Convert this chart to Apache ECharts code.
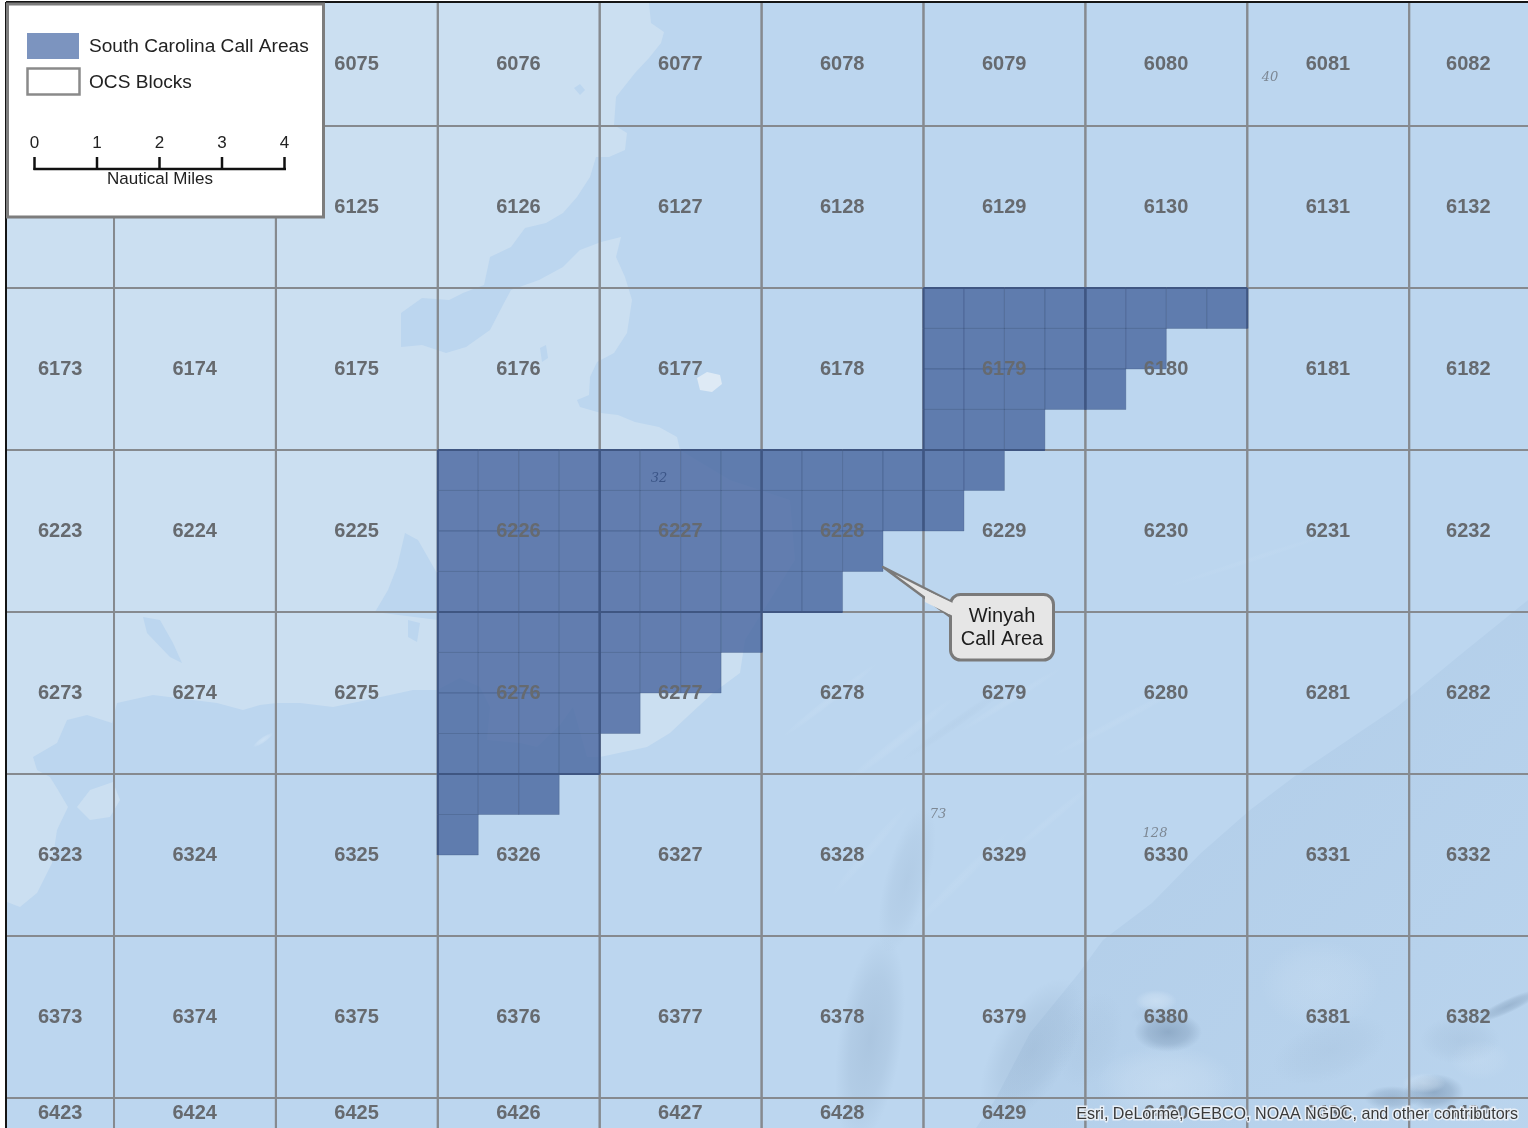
<!DOCTYPE html>
<html>
<head>
<meta charset="utf-8">
<style>html,body{margin:0;padding:0;background:#fff}#c{width:1528px;height:1128px}</style>
<script src="https://cdn.jsdelivr.net/npm/echarts@6/dist/echarts.min.js"></script>
</head>
<body>
<div id="c"></div>
<script>
// OCS block numbers (block n sits at column n%50, row floor(n/50))
const blockNumbers = [
  6075,6076,6077,6078,6079,6080,6081,6082,
  6125,6126,6127,6128,6129,6130,6131,6132,
  6173,6174,6175,6176,6177,6178,6179,6180,6181,6182,
  6223,6224,6225,6226,6227,6228,6229,6230,6231,6232,
  6273,6274,6275,6276,6277,6278,6279,6280,6281,6282,
  6323,6324,6325,6326,6327,6328,6329,6330,6331,6332,
  6373,6374,6375,6376,6377,6378,6379,6380,6381,6382,
  6423,6424,6425,6426,6427,6428,6429,6430,6431,6432
];
const blocksUnderLegend = [6073,6074,6123,6124];

// Call area: which block, and which of its 4x4 aliquots (rows top to bottom)
const callBlocks = [6179,6180,6226,6227,6228,6229,6276,6277,6326];
const callMasks = [
  ['1111','1111','1111','1110'],
  ['1111','1100','1000','0000'],
  ['1111','1111','1111','1111'],
  ['1111','1111','1111','1111'],
  ['1111','1111','1110','1100'],
  ['1100','1000','0000','0000'],
  ['1111','1111','1111','1111'],
  ['1111','1110','1000','0000'],
  ['1110','1000','0000','0000']
];

// Bathymetry tints, digitised in map-sheet units
const shallowShelf = [[7,3],[649,3],[651,23],[664,32],[661,43],[649,58],[635,73],[616,97],[614,125],[627,133],[625,150],[609,157],[596,157],[590,177],[577,197],[563,213],[546,223],[525,228],[511,247],[490,257],[484,285],[463,293],[449,300],[422,298],[401,313],[401,347],[422,345],[446,353],[466,347],[490,330],[504,303],[511,290],[539,280],[563,267],[580,250],[601,242],[621,237],[616,257],[625,277],[632,300],[627,333],[614,353],[597,362],[590,377],[589,395],[577,400],[580,407],[601,413],[618,415],[635,422],[659,427],[677,437],[680,450],[730,480],[790,500],[795,560],[770,600],[745,640],[740,673],[713,693],[687,717],[670,733],[647,747],[600,757],[587,757],[573,707],[560,725],[537,747],[520,743],[487,740],[490,707],[480,687],[460,678],[437,690],[413,690],[367,700],[333,707],[300,703],[277,703],[260,705],[243,710],[217,703],[193,700],[153,695],[117,703],[112,723],[87,715],[67,720],[57,743],[33,757],[37,770],[50,777],[58,790],[68,807],[57,830],[52,863],[37,893],[20,907],[7,902]];
const shelfIsland = [[77,807],[90,790],[113,782],[120,800],[110,817],[90,820]];
const shelfKnoll = [[697,378],[707,372],[720,375],[722,384],[712,392],[700,390]];
const pocket6274 = [[143,617],[160,620],[173,643],[182,663],[170,657],[147,633]];
const pocket6225 = [[405,533],[418,540],[438,575],[438,620],[375,612],[388,590],[397,567]];
const pocket6275 = [[408,620],[420,623],[417,642],[408,637]];
const pocket6076 = [[574,88],[580,84],[585,90],[580,95]];
const pocket6176 = [[540,348],[546,345],[548,358],[542,362]];
const slopeWedge = [[1528,600],[1460,655],[1397,707],[1299,773],[1250,810],[1201,853],[1152,903],[1103,940],[1079,973],[1030,1033],[995,1100],[976,1128],[1528,1128]];

// Soft relief: x, y, radius x, radius y, rotation degrees, opacity
const reliefShadows = [
  [870,1040,32,105,-8,.24],[907,880,22,75,-15,.15],[1032,1050,38,80,-30,.22],
  [1168,1032,34,20,0,.6],[1434,1092,30,18,0,.6],[1392,1098,28,12,0,.45],
  [1508,1006,36,7,25,.45],[1330,1050,60,30,20,.1],[1460,1040,40,24,0,.14],
  [1090,1040,30,50,-20,.08],[960,720,70,5,35,.06],[1150,1015,20,10,0,.08]
];
const reliefLights = [
  [1156,1001,21,11,0,.55],[1424,1083,22,10,0,.5],[1166,1085,70,40,0,.4],
  [1320,985,60,45,0,.25],[1480,1060,30,20,0,.2],[830,700,60,4,38,.2],
  [900,740,70,5,38,.18],[1010,700,60,4,32,.16],[1120,720,80,4,28,.14],
  [870,850,60,5,50,.14],[960,880,70,5,45,.14],[1050,820,60,4,40,.14],[263,740,12,3,35,.6],[1250,560,90,3,18,.1]
];

// Spot soundings: x, y, depth
const soundings = [[659,479,'32'],[1270,78,'40'],[938,815,'73'],[1155,834,'128']];

// Legend and notes
const legendLabels = ['South Carolina Call Areas','OCS Blocks'];
const scaleTicks = ['0','1','2','3','4'];
const scaleTitle = 'Nautical Miles';
const calloutText = 'Winyah\nCall Area';
const creditText = 'Esri, DeLorme, GEBCO, NOAA NGDC, and other contributors';

const X_MIN = 23.339, X_MAX = 32.734, Y_MIN = 121.241, Y_MAX = 128.185;
const FONT = '"Liberation Sans", Arial, sans-serif';
const blockCell = n => [n % 50, Math.floor(n / 50)];

const chart = echarts.init(document.getElementById('c'));

function ringSeries(ring, fill, z) {
  return {
    type: 'custom', xAxisIndex: 1, yAxisIndex: 1, z, silent: true, clip: true,
    encode: {x: 0, y: 1}, data: ring,
    renderItem(params, api) {
      if (params.dataIndex !== 0) return null;
      return {type: 'polygon', shape: {points: ring.map(p => api.coord(p))}, style: {fill}};
    }
  };
}
function blobSeries(list, rgb, z) {
  return {
    type: 'custom', xAxisIndex: 1, yAxisIndex: 1, z, silent: true, clip: true,
    encode: {x: 0, y: 1}, data: list,
    renderItem(params, api) {
      const p = api.coord([api.value(0), api.value(1)]);
      const s = api.size([api.value(2), api.value(3)]);
      const a = api.value(5);
      return {
        type: 'circle', x: p[0], y: p[1], scaleX: s[0], scaleY: s[1],
        rotation: api.value(4) * Math.PI / 180,
        shape: {cx: 0, cy: 0, r: 1},
        style: {fill: new echarts.graphic.RadialGradient(.5, .5, .5, [
          {offset: 0, color: `rgba(${rgb},${a})`},
          {offset: .6, color: `rgba(${rgb},${a * .6})`},
          {offset: 1, color: `rgba(${rgb},0)`}
        ])}
      };
    }
  };
}

const aliquots = [];
callBlocks.forEach((n, b) => {
  const [c, r] = blockCell(n);
  callMasks[b].forEach((row, j) => row.split('').forEach((f, i) => {
    if (f === '1') aliquots.push([c + i / 4, r + j / 4, c + (i + 1) / 4, r + (j + 1) / 4, i, j]);
  }));
});
const SHORE = 'rgba(203,223,241,1)';

const series = [
  ringSeries(slopeWedge, new echarts.graphic.LinearGradient(0, 0, 1, 1, [
    {offset: 0, color: 'rgba(150,182,215,.3)'},
    {offset: .55, color: 'rgba(150,182,215,.18)'},
    {offset: 1, color: 'rgba(150,182,215,.06)'}
  ]), 1),
  blobSeries(reliefShadows, '118,146,176', 1),
  blobSeries(reliefLights, '216,232,247', 1),
  ringSeries(shallowShelf, SHORE, 1),
  ringSeries(shelfIsland, SHORE, 1),
  ringSeries(shelfKnoll, 'rgba(222,234,245,1)', 1),
  ringSeries(pocket6274, '#bcd6ef', 1),
  ringSeries(pocket6225, '#bcd6ef', 1),
  ringSeries(pocket6275, '#bcd6ef', 1),
  ringSeries(pocket6076, '#bcd6ef', 1),
  ringSeries(pocket6176, '#bcd6ef', 1),
  { // OCS block outlines
    type: 'custom', z: 3, silent: true, clip: true,
    encode: {x: 0, y: 1},
    data: blockNumbers.concat(blocksUnderLegend).map(n => blockCell(n)),
    renderItem(params, api) {
      const a = api.coord([api.value(0), api.value(1)]);
      const b = api.coord([api.value(0) + 1, api.value(1) + 1]);
      return {type: 'rect', shape: {x: a[0], y: a[1], width: b[0] - a[0], height: b[1] - a[1]},
        style: {fill: 'none', stroke: '#868a8f', lineWidth: 2}};
    }
  },
  { // call area aliquots
    type: 'custom', z: 4, silent: true, clip: true,
    encode: {x: [0, 2], y: [1, 3]}, data: aliquots,
    renderItem(params, api) {
      const a = api.coord([api.value(0), api.value(1)]);
      const b = api.coord([api.value(2), api.value(3)]);
      return {type: 'rect', shape: {x: a[0], y: a[1], width: b[0] - a[0], height: b[1] - a[1]},
        style: {fill: 'rgba(74,104,160,.82)', stroke: 'rgba(48,68,108,.26)', lineWidth: 1}};
    }
  },
  { // block boundaries inside the call area
    type: 'custom', z: 4, silent: true, clip: true,
    encode: {x: [0, 2], y: [1, 3]}, data: aliquots,
    renderItem(params, api) {
      const a = api.coord([api.value(0), api.value(1)]);
      const b = api.coord([api.value(2), api.value(3)]);
      const i = api.value(4), j = api.value(5), kids = [];
      const seg = (x1, y1, x2, y2) => kids.push({type: 'line', shape: {x1, y1, x2, y2},
        style: {stroke: '#3f5682', lineWidth: 2}});
      if (i === 0) seg(a[0], a[1], a[0], b[1]);
      if (i === 3) seg(b[0], a[1], b[0], b[1]);
      if (j === 0) seg(a[0], a[1], b[0], a[1]);
      if (j === 3) seg(a[0], b[1], b[0], b[1]);
      return {type: 'group', children: kids};
    }
  },
  { // block numbers, centred in the visible part of each block
    type: 'custom', z: 5, silent: true, clip: true,
    encode: {x: 0, y: 1},
    data: blockNumbers.map(n => {
      const [c, r] = blockCell(n);
      return [(Math.max(c, X_MIN) + Math.min(c + 1, X_MAX)) / 2,
              (Math.max(r, Y_MIN) + Math.min(r + 1, Y_MAX)) / 2, n];
    }),
    renderItem(params, api) {
      const p = api.coord([api.value(0), api.value(1)]);
      return {type: 'text', x: p[0] - 0.3, y: p[1] + 0.5, style: {
        text: String(api.value(2)), fill: '#666a6f', font: 'bold 20px ' + FONT,
        align: 'center', verticalAlign: 'middle'}};
    }
  },
  { // soundings
    type: 'custom', xAxisIndex: 1, yAxisIndex: 1, z: 5, silent: true, clip: true,
    encode: {x: 0, y: 1}, data: soundings,
    renderItem(params, api) {
      const p = api.coord([api.value(0), api.value(1)]);
      const d = soundings[params.dataIndex];
      return {type: 'text', x: p[0], y: p[1], style: {
        text: d[2], fill: d[2] === '32' ? '#3b5587' : '#7d8894',
        font: 'italic 13px "DejaVu Serif", serif', align: 'center', verticalAlign: 'middle'}};
    }
  }
];

const txt = (x, y, text, size, align, fill) => ({
  type: 'text', x, y, silent: true, z: 20,
  style: {text, fill: fill || '#222', font: size + 'px ' + FONT, align: align || 'left', verticalAlign: 'middle'}
});
const g = [];
// frame
g.push({type: 'line', z: 10, silent: true, shape: {x1: 6, y1: 2, x2: 6, y2: 1128}, style: {stroke: '#151515', lineWidth: 2}});
g.push({type: 'line', z: 10, silent: true, shape: {x1: 6, y1: 2, x2: 1528, y2: 2}, style: {stroke: '#151515', lineWidth: 2}});
// legend box
g.push({type: 'rect', z: 15, silent: true, shape: {x: 7.5, y: 4, width: 316, height: 213}, style: {fill: '#fff', stroke: '#7d7d7d', lineWidth: 3}});
g.push({type: 'rect', z: 16, silent: true, shape: {x: 27, y: 33, width: 52, height: 26}, style: {fill: '#7c94bf'}});
g.push({type: 'rect', z: 16, silent: true, shape: {x: 27.5, y: 68.5, width: 52, height: 26}, style: {fill: '#fff', stroke: '#8a8a8a', lineWidth: 2.5}});
g.push(txt(89, 47, legendLabels[0], 19.1));
g.push(txt(89, 83, legendLabels[1], 19.1));
// scale bar
g.push({type: 'line', z: 16, silent: true, shape: {x1: 33.5, y1: 169, x2: 286, y2: 169}, style: {stroke: '#111', lineWidth: 2.5}});
scaleTicks.forEach((t, i) => {
  const x = 34.5 + i * 62.5;
  g.push({type: 'line', z: 16, silent: true, shape: {x1: x, y1: 157, x2: x, y2: 170}, style: {stroke: '#111', lineWidth: 2.5}});
  g.push(txt(x, 143, t, 17, 'center'));
});
g.push(txt(160, 179, scaleTitle, 17, 'center'));
// callout
g.push({type: 'polygon', z: 16, silent: true, shape: {points: [[883,567],[952,602],[952,618]]}, style: {fill: '#e6e6e6', stroke: '#7a7a7a', lineWidth: 2.5, lineJoin: 'round'}});
g.push({type: 'rect', z: 16, silent: true, shape: {x: 950.5, y: 594.5, width: 103, height: 65.5, r: 10}, style: {fill: '#e6e6e6', stroke: '#7a7a7a', lineWidth: 3}});
g.push({type: 'polygon', z: 17, silent: true, shape: {points: [[925,590],[955,604],[955,617],[925,602]]}, style: {fill: '#e6e6e6'}});
g.push(txt(1002, 616.5, calloutText.split('\n')[0], 20, 'center', '#1d1d1d'));
g.push(txt(1002, 639.5, calloutText.split('\n')[1], 20, 'center', '#1d1d1d'));
// credit
g.push({type: 'text', x: 1518, y: 1115, silent: true, z: 18, style: {
  text: creditText, fill: '#3a3a3a', stroke: 'rgba(235,241,247,.92)', lineWidth: 3,
  font: '16.1px ' + FONT, align: 'right', verticalAlign: 'middle'}});

chart.setOption({
  animation: false,
  grid: {left: 7, top: 3, right: 0, bottom: 0, show: true, backgroundColor: '#bcd6ef', borderWidth: 0},
  xAxis: [
    {type: 'value', min: X_MIN, max: X_MAX, show: false},
    {type: 'value', min: 7, max: 1528, show: false}
  ],
  yAxis: [
    {type: 'value', min: Y_MIN, max: Y_MAX, inverse: true, show: false},
    {type: 'value', min: 3, max: 1128, inverse: true, show: false}
  ],
  series,
  graphic: {elements: g}
});
</script>
</body>
</html>
